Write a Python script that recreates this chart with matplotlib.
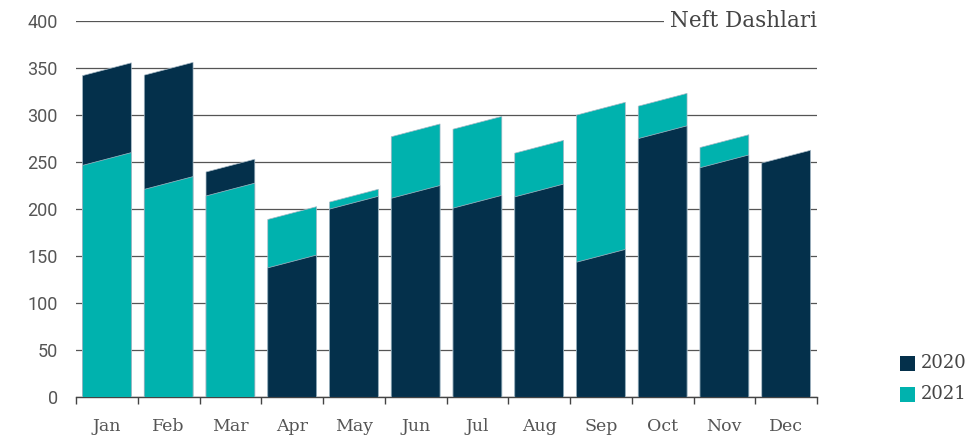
import numpy as np
import matplotlib.pyplot as plt
from matplotlib.patches import Polygon, Rectangle

# Dados (valor no meio do topo inclinado de cada barra)
months = ['Jan', 'Feb', 'Mar', 'Apr', 'May', 'Jun', 'Jul', 'Aug', 'Sep', 'Oct', 'Nov', 'Dec']
vals_2020 = [349, 349.5, 246.5, 144.5, 207, 218.5, 208, 220, 150.5, 282, 251, 256]
vals_2021 = [253.5, 228, 221, 196, 214.5, 284, 292, 266.5, 307, 316.5, 272.5, np.nan]
series_names = ['2020', '2021']
title = 'Neft Dashlari'

c_2020 = '#04304b'
c_2021 = '#00b2ae'
bar_w = 0.79
skew = 13.6  # subida do topo ao longo da largura da barra

fig = plt.figure(figsize=(9.7, 4.37), dpi=100)
ax = fig.add_axes([0.0784, 0.0908, 0.7639, 0.8605])

x = np.arange(len(months))


def slanted_bar(xc, v, color):
    if np.isnan(v):
        return None
    x0, x1 = xc - bar_w / 2, xc + bar_w / 2
    pts = [(x0, 0), (x1, 0), (x1, v + skew / 2), (x0, v - skew / 2)]
    p = Polygon(pts, closed=True, facecolor=color, edgecolor='#a7b9c6',
                linewidth=0.5, zorder=3)
    ax.add_patch(p)
    return p


for i in x:
    pairs = [(vals_2020[i], c_2020), (vals_2021[i], c_2021)]
    pairs = [p for p in pairs if not np.isnan(p[0])]
    # maior atras, menor na frente
    pairs.sort(key=lambda p: -p[0])
    for v, col in pairs:
        slanted_bar(i, v, col)

ax.set_xlim(-0.5, len(months) - 0.5)
ax.set_ylim(0, 400)
ax.set_yticks(np.arange(0, 401, 50))
ax.yaxis.grid(True, color='#555555', linewidth=0.9)
ax.set_axisbelow(True)

for s in ['top', 'right', 'left']:
    ax.spines[s].set_visible(False)
ax.spines['bottom'].set_color('#444444')
ax.spines['bottom'].set_linewidth(1.0)

ax.set_xticks(x)
ax.set_xticklabels(months, fontfamily='DejaVu Serif', fontsize=12.5, color='#555555')
ax.set_xticks(np.arange(-0.5, len(months)), minor=True)
ax.tick_params(axis='x', which='major', length=0, pad=15)
ax.tick_params(axis='x', which='minor', length=5, width=1.0, color='#444444')
ax.tick_params(axis='y', length=0, pad=13, labelsize=13, labelcolor='#555555')
for lab in ax.get_yticklabels():
    lab.set_fontfamily('Roboto')

# titulo sobre a linha de 400
ax.text(1.0, 400, title, transform=ax.get_yaxis_transform(), ha='right', va='center',
        fontfamily='DejaVu Serif', fontsize=15.5, color='#444444', zorder=5,
        bbox=dict(facecolor='white', edgecolor='none', pad=4))

# legenda manual
for k, (name, col) in enumerate(zip(series_names, [c_2020, c_2021])):
    yb = 1 - (370.5 + k * 31) / 437
    fig.patches.append(Rectangle((900 / 970, yb), 15 / 970, 15 / 437,
                                 transform=fig.transFigure, facecolor=col,
                                 edgecolor='none'))
    fig.text(921 / 970, yb + 7.5 / 437, name, ha='left', va='center',
             fontfamily='DejaVu Serif', fontsize=13, color='#444444')

plt.savefig('out.png', dpi=100)
